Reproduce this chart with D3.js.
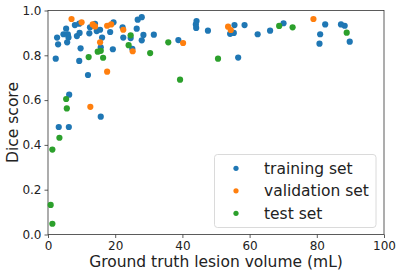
<!DOCTYPE html>
<html>
<head>
<meta charset="utf-8">
<script src="https://cdn.jsdelivr.net/npm/d3@7"></script>
<style>
  body { margin: 0; background: #fff; }
  text { font-family: "DejaVu Sans", sans-serif; fill: #222; }
</style>
</head>
<body>
<div id="visualization"></div>
<script>
// Lesion volume (mL) and dice score per set
var trainingVolume = [2.3, 2.7, 3.0, 3.2, 5.4, 4.6, 5.9, 6.1, 5.7, 6.2, 6.3, 8.0, 9.3, 8.6, 9.4, 9.7, 9.3,
  11.9, 12.5, 14.0, 12.3, 14.5, 15.5, 16.1, 15.7, 15.7, 18.5, 19.5, 19.3, 22.2, 22.4, 24.6, 25.1,
  26.7, 27.9, 26.4, 28.4, 27.9, 31.5, 38.8, 44.0, 44.1, 44.2, 47.6, 54.2, 55.3, 55.5, 58.5, 56.6,
  62.4, 66.1, 70.1, 81.0, 80.8, 82.5, 87.2, 88.3, 89.8];
var trainingDice = [0.785, 0.879, 0.849, 0.48, 0.919, 0.894, 0.893, 0.880, 0.858, 0.48, 0.624, 0.935, 0.941, 0.886, 0.900, 0.831, 0.775,
  0.712, 0.925, 0.940, 0.898, 0.908, 0.914, 0.879, 0.836, 0.526, 0.904, 0.947, 0.827, 0.925, 0.879, 0.877, 0.829,
  0.959, 0.970, 0.919, 0.891, 0.867, 0.892, 0.868, 0.938, 0.922, 0.953, 0.910, 0.896, 0.900, 0.935, 0.935, 0.790,
  0.894, 0.910, 0.943, 0.894, 0.852, 0.938, 0.938, 0.932, 0.861];

var validationVolume = [7.0, 10.0, 13.3, 14.0, 15.5, 12.6, 17.6, 18.8, 17.6, 22.4, 25.2, 40.2, 53.6, 54.4, 79.0];
var validationDice = [0.962, 0.947, 0.938, 0.929, 0.858, 0.570, 0.932, 0.938, 0.727, 0.914, 0.818, 0.855, 0.928, 0.913, 0.962];

var testVolume = [5.4, 5.6, 3.4, 12.1, 14.8, 15.7, 16.4, 24.6, 24.0, 30.4, 35.8, 39.3, 1.3, 0.8, 1.3, 50.6, 68.8, 72.8, 88.9];
var testDice = [0.605, 0.563, 0.432, 0.792, 0.816, 0.820, 0.789, 0.889, 0.845, 0.810, 0.858, 0.691, 0.379, 0.132, 0.048, 0.785, 0.931, 0.925, 0.901];

var xTicks = [0, 20, 40, 60, 80, 100];
var yTicks = [0.0, 0.2, 0.4, 0.6, 0.8, 1.0];
var seriesNames = ["training set", "validation set", "test set"];
var colors = ["#1f77b4", "#ff7f0e", "#2ca02c"];

var width = 400, height = 275,
    margin = { left: 48, right: 16, top: 10.5, bottom: 40.5 };

var svg = d3.select("#visualization")
            .append("svg")
            .attr("width", width)
            .attr("height", height);

var xScale = d3.scaleLinear().domain([0, 100]).range([margin.left, width - margin.right]),
    yScale = d3.scaleLinear().domain([0, 1]).range([height - margin.bottom, margin.top]);

// axes
var xAxis = svg.append("g")
   .attr("transform", "translate(0," + (height - margin.bottom) + ")")
   .call(d3.axisBottom(xScale).tickValues(xTicks).tickSize(3.5).tickPadding(3).tickFormat(d3.format("d")));
var yAxis = svg.append("g")
   .attr("transform", "translate(" + margin.left + ",0)")
   .call(d3.axisLeft(yScale).tickValues(yTicks).tickSize(3.5).tickPadding(3).tickFormat(d3.format(".1f")));

[xAxis, yAxis].forEach(function(a) {
  a.select(".domain").remove();
  a.selectAll(".tick line").attr("stroke", "#333").attr("stroke-width", 0.8);
  a.selectAll(".tick text").style("font-family", "DejaVu Sans").style("font-size", "12px").attr("fill", "#222");
});

// frame
svg.append("rect")
   .attr("x", xScale(0)).attr("y", yScale(1))
   .attr("width", xScale(100) - xScale(0))
   .attr("height", yScale(0) - yScale(1))
   .attr("fill", "none").attr("stroke", "#333").attr("stroke-width", 0.8);

// points
var sets = [
  { vol: trainingVolume, dice: trainingDice },
  { vol: validationVolume, dice: validationDice },
  { vol: testVolume, dice: testDice }
];
sets.forEach(function(s, i) {
  svg.append("g").selectAll("circle")
     .data(d3.range(s.vol.length))
     .enter().append("circle")
     .attr("cx", function(j) { return xScale(s.vol[j]); })
     .attr("cy", function(j) { return yScale(s.dice[j]); })
     .attr("r", 3.1)
     .attr("fill", colors[i]);
});

// axis labels
svg.append("text")
   .attr("x", (xScale(0) + xScale(100)) / 2)
   .attr("y", 267)
   .attr("text-anchor", "middle")
   .style("font-size", "15.5px")
   .text("Ground truth lesion volume (mL)");

svg.append("text")
   .attr("transform", "translate(18," + ((yScale(0) + yScale(1)) / 2) + ") rotate(-90)")
   .attr("text-anchor", "middle")
   .style("font-size", "15.5px")
   .text("Dice score");

// legend
var legend = svg.append("g");
legend.append("rect")
   .attr("x", 214.5).attr("y", 154.5)
   .attr("width", 161.5).attr("height", 73)
   .attr("rx", 3)
   .attr("fill", "#fff").attr("fill-opacity", 0.8)
   .attr("stroke", "#d0d0d0").attr("stroke-width", 0.8);

seriesNames.forEach(function(name, i) {
  var ly = 168.3 + i * 22.5;
  legend.append("circle").attr("cx", 236).attr("cy", ly).attr("r", 2.6).attr("fill", colors[i]);
  legend.append("text")
        .attr("x", 264).attr("y", ly + 5.5)
        .style("font-size", "15.5px")
        .text(name);
});
</script>
</body>
</html>
